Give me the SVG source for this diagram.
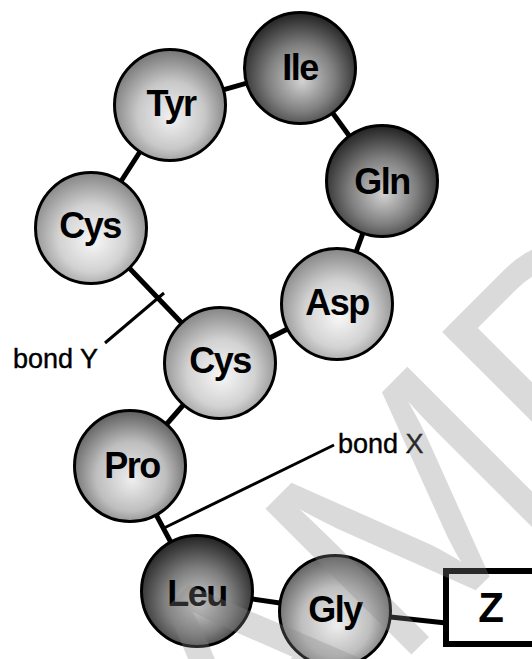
<svg xmlns="http://www.w3.org/2000/svg" width="532" height="659" viewBox="0 0 532 659">
<defs>
<radialGradient id="gLight" cx="0.5" cy="0.57" r="0.55" fx="0.52" fy="0.62">
<stop offset="0" stop-color="#f7f7f7"/><stop offset="0.55" stop-color="#d2d2d2"/><stop offset="1" stop-color="#8a8a8a"/>
</radialGradient>
<radialGradient id="gTyr" cx="0.5" cy="0.57" r="0.55" fx="0.52" fy="0.62">
<stop offset="0" stop-color="#f2f2f2"/><stop offset="0.55" stop-color="#c8c8c8"/><stop offset="1" stop-color="#7a7a7a"/>
</radialGradient>
<radialGradient id="gMid" cx="0.5" cy="0.57" r="0.57" fx="0.52" fy="0.63">
<stop offset="0" stop-color="#eeeeee"/><stop offset="0.55" stop-color="#bebebe"/><stop offset="1" stop-color="#5e5e5e"/>
</radialGradient>
<radialGradient id="gDark" cx="0.5" cy="0.57" r="0.55" fx="0.52" fy="0.62">
<stop offset="0" stop-color="#d2d2d2"/><stop offset="0.55" stop-color="#7e7e7e"/><stop offset="1" stop-color="#282828"/>
</radialGradient>
</defs>
<style>
.bond{stroke:#000;stroke-width:5;fill:none}
.ptr{stroke:#000;stroke-width:3;fill:none}
.aa circle{stroke:#000;stroke-width:3}
.lbl{font-family:"Liberation Sans",Arial,sans-serif;font-size:36px;font-weight:bold;letter-spacing:-1.5px;text-anchor:middle;fill:#000}
.note{font-family:"Liberation Sans",Arial,sans-serif;font-size:27px;fill:#000;stroke:#000;stroke-width:0.4}
.wm{font-family:"Liberation Sans",Arial,sans-serif;font-size:300px;fill:#888;opacity:0.3}
</style>
<rect width="532" height="659" fill="#fff"/>
<g id="connectors">
<line class="bond" x1="91" y1="228" x2="170" y2="105"/>
<line class="bond" x1="170" y1="105" x2="300" y2="68"/>
<line class="bond" x1="300" y1="68" x2="382" y2="181"/>
<line class="bond" x1="382" y1="181" x2="337" y2="304"/>
<line class="bond" x1="337" y1="304" x2="220" y2="363"/>
<line class="bond" x1="91" y1="228" x2="220" y2="363"/>
<line class="bond" x1="220" y1="363" x2="130" y2="466"/>
<line class="bond" x1="130" y1="466" x2="197" y2="591"/>
<line class="bond" x1="197" y1="591" x2="335" y2="611"/>
<line class="bond" x1="335" y1="611" x2="446" y2="623"/>
<line class="ptr" x1="105" y1="343" x2="164" y2="293"/>
<line class="ptr" x1="162" y1="529" x2="334" y2="445"/>
</g>
<g id="node-ile" class="aa"><circle cx="300" cy="68" r="55.5" fill="url(#gDark)"/><text class="lbl" x="300" y="80">Ile</text></g>
<g id="node-tyr" class="aa"><circle cx="170" cy="105" r="55.5" fill="url(#gTyr)"/><text class="lbl" x="171" y="116">Tyr</text></g>
<g id="node-gln" class="aa"><circle cx="382" cy="181" r="55.5" fill="url(#gDark)"/><text class="lbl" x="382" y="194">Gln</text></g>
<g id="node-cys1" class="aa"><circle cx="91" cy="228" r="55.5" fill="url(#gLight)"/><text class="lbl" x="90" y="238">Cys</text></g>
<g id="node-asp" class="aa"><circle cx="337" cy="304" r="55.5" fill="url(#gLight)"/><text class="lbl" x="337" y="315">Asp</text></g>
<g id="node-cys2" class="aa"><circle cx="220" cy="363" r="55.5" fill="url(#gLight)"/><text class="lbl" x="220" y="373">Cys</text></g>
<g id="node-pro" class="aa"><circle cx="130" cy="466" r="55.5" fill="url(#gMid)"/><text class="lbl" x="132" y="478">Pro</text></g>
<g id="node-leu" class="aa"><circle cx="197" cy="591" r="55.5" fill="url(#gDark)"/><text class="lbl" x="197" y="606">Leu</text></g>
<g id="node-gly" class="aa"><circle cx="335" cy="611" r="55.5" fill="url(#gMid)"/><text class="lbl" x="335" y="622">Gly</text></g>
<g id="node-z"><rect x="446" y="571" width="100" height="73" fill="#fff" stroke="#000" stroke-width="6"/><text x="491" y="622" style="font-family:'Liberation Sans',Arial,sans-serif;font-size:42px;font-weight:bold;text-anchor:middle">Z</text></g>
<g id="labels">
<text class="note" x="13" y="368">bond Y</text>
<text class="note" x="338" y="453">bond X</text>
</g>
<g id="watermark"><text class="wm" transform="translate(111 955) rotate(-45)">SAMPLE</text></g>
</svg>
